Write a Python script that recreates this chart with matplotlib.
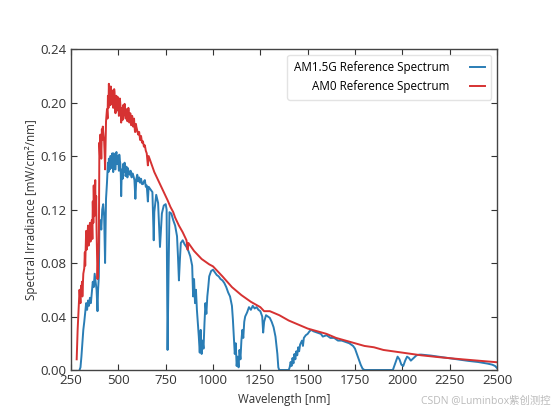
import matplotlib
matplotlib.use('Agg')
import matplotlib.pyplot as plt

# AM0 reference spectrum, mW/cm2/nm
am0_wl = [280, 285, 290, 295, 300, 303, 305, 308, 310, 315, 320, 323, 325, 330, 333,
          335, 340, 343, 345, 350, 353, 355, 360, 363, 365, 368, 370, 373, 375, 378,
          380, 383, 385, 390, 393, 397, 400, 403, 405, 408, 410, 413, 415, 418, 420,
          425, 428, 430, 433, 435, 440, 443, 445, 448, 450, 453, 455, 458, 460, 463,
          465, 468, 470, 473, 475, 478, 480, 483, 485, 488, 490, 493, 495, 498, 500,
          503, 505, 508, 510, 513, 515, 518, 520, 523, 525, 528, 530, 533, 535, 538,
          540, 543, 545, 548, 550, 553, 555, 558, 560, 563, 565, 568, 570, 573, 575,
          578, 580, 583, 585, 588, 590, 593, 595, 600, 605, 610, 615, 620, 625, 630,
          635, 640, 645, 650, 656, 660, 665, 670, 680, 690, 700, 710, 720, 730, 740,
          750, 760, 775, 790, 800, 820, 840, 850, 860, 866, 870, 880, 900, 920, 940,
          960, 980, 1000, 1050, 1100, 1150, 1200, 1250, 1270, 1300, 1350, 1400, 1450,
          1500, 1550, 1600, 1650, 1700, 1750, 1800, 1850, 1900, 1950, 2000, 2100, 2200,
          2300, 2400, 2500]
am0_val = [0.008, 0.030, 0.045, 0.060, 0.050, 0.063, 0.058, 0.066, 0.055, 0.072, 0.076,
           0.088, 0.078, 0.104, 0.090, 0.096, 0.108, 0.093, 0.100, 0.110, 0.096, 0.104,
           0.112, 0.098, 0.126, 0.110, 0.138, 0.115, 0.124, 0.142, 0.118, 0.130, 0.105,
           0.068, 0.082, 0.095, 0.170, 0.160, 0.176, 0.168, 0.158, 0.180, 0.172, 0.182,
           0.178, 0.171, 0.160, 0.150, 0.172, 0.186, 0.195, 0.188, 0.205, 0.196, 0.214,
           0.200, 0.206, 0.198, 0.212, 0.199, 0.200, 0.209, 0.207, 0.196, 0.203, 0.210,
           0.208, 0.196, 0.192, 0.205, 0.205, 0.194, 0.198, 0.204, 0.201, 0.190, 0.196,
           0.203, 0.200, 0.193, 0.185, 0.196, 0.193, 0.187, 0.198, 0.190, 0.191, 0.199,
           0.196, 0.188, 0.189, 0.195, 0.193, 0.186, 0.191, 0.196, 0.194, 0.185, 0.186,
           0.192, 0.190, 0.183, 0.185, 0.190, 0.188, 0.182, 0.186, 0.188, 0.183, 0.178,
           0.178, 0.184, 0.182, 0.179, 0.176, 0.178, 0.172, 0.175, 0.170, 0.171, 0.167,
           0.168, 0.164, 0.162, 0.153, 0.160, 0.158, 0.156, 0.152, 0.148, 0.145, 0.142,
           0.139, 0.136, 0.133, 0.130, 0.127, 0.122, 0.118, 0.114, 0.108, 0.103, 0.100,
           0.097, 0.090, 0.095, 0.093, 0.089, 0.086, 0.083, 0.081, 0.079, 0.0775, 0.070,
           0.062, 0.056, 0.051, 0.047, 0.044, 0.044, 0.041, 0.037, 0.034, 0.031, 0.029,
           0.027, 0.024, 0.022, 0.020, 0.018, 0.017, 0.015, 0.014, 0.013, 0.011, 0.0095,
           0.0082, 0.0070, 0.0058]

# AM1.5G reference spectrum, mW/cm2/nm
am15_wl = [295, 300, 305, 310, 315, 320, 325, 330, 335, 340, 345, 350, 355, 360, 365,
           370, 375, 380, 385, 390, 393, 397, 400, 405, 410, 415, 420, 425, 430, 435,
           440, 443, 445, 448, 450, 453, 455, 458, 460, 463, 465, 468, 470, 473, 475,
           478, 480, 483, 485, 488, 490, 493, 495, 498, 500, 503, 505, 508, 510, 513,
           515, 518, 520, 523, 525, 528, 530, 533, 535, 538, 540, 543, 545, 548, 550,
           555, 560, 565, 570, 575, 580, 585, 590, 595, 600, 605, 610, 615, 620, 625,
           630, 635, 640, 645, 650, 656, 660, 670, 680, 687, 690, 700, 710, 715, 720,
           725, 730, 740, 750, 755, 760, 765, 770, 780, 790, 800, 810, 815, 820, 825,
           830, 840, 850, 860, 870, 880, 890, 895, 900, 905, 910, 915, 920, 925, 930,
           935, 940, 945, 950, 955, 960, 965, 970, 975, 980, 990, 1000, 1010, 1020, 1030,
           1040, 1050, 1060, 1070, 1080, 1090, 1100, 1105, 1110, 1115, 1120, 1125, 1130,
           1135, 1140, 1145, 1150, 1155, 1160, 1165, 1170, 1180, 1190, 1200, 1210, 1220,
           1230, 1240, 1250, 1260, 1265, 1270, 1280, 1290, 1300, 1310, 1320, 1330, 1340,
           1345, 1350, 1400, 1405, 1410, 1415, 1420, 1425, 1430, 1435, 1440, 1445, 1450,
           1455, 1460, 1470, 1475, 1480, 1490, 1500, 1510, 1520, 1530, 1550, 1570, 1580,
           1600, 1620, 1640, 1650, 1660, 1680, 1700, 1720, 1740, 1750, 1760, 1770, 1780,
           1790, 1800, 1950, 1965, 1975, 1985, 1995, 2005, 2015, 2025, 2035, 2045, 2060,
           2075, 2090, 2100, 2150, 2200, 2250, 2300, 2350, 2400, 2450, 2475, 2490, 2500]
am15_val = [0.0, 0.002, 0.010, 0.020, 0.030, 0.036, 0.043, 0.050, 0.045, 0.052, 0.048,
            0.054, 0.050, 0.058, 0.066, 0.062, 0.072, 0.066, 0.060, 0.044, 0.060, 0.070,
            0.108, 0.112, 0.105, 0.120, 0.124, 0.115, 0.080, 0.128, 0.140, 0.150, 0.155,
            0.148, 0.158, 0.152, 0.150, 0.160, 0.160, 0.151, 0.156, 0.162, 0.155, 0.148,
            0.162, 0.157, 0.158, 0.150, 0.150, 0.161, 0.163, 0.154, 0.160, 0.158, 0.157,
            0.149, 0.161, 0.156, 0.155, 0.146, 0.130, 0.148, 0.150, 0.143, 0.154, 0.148,
            0.149, 0.155, 0.152, 0.145, 0.146, 0.152, 0.150, 0.144, 0.151, 0.148, 0.146,
            0.149, 0.144, 0.147, 0.145, 0.142, 0.128, 0.143, 0.146, 0.141, 0.144, 0.140,
            0.143, 0.139, 0.139, 0.141, 0.142, 0.137, 0.138, 0.126, 0.137, 0.135, 0.133,
            0.097, 0.118, 0.131, 0.125, 0.108, 0.092, 0.105, 0.117, 0.123, 0.124, 0.120,
            0.015, 0.070, 0.118, 0.117, 0.112, 0.108, 0.100, 0.085, 0.067, 0.082, 0.095,
            0.097, 0.094, 0.092, 0.089, 0.085, 0.078, 0.055, 0.068, 0.050, 0.060, 0.045,
            0.035, 0.025, 0.013, 0.030, 0.012, 0.022, 0.016, 0.035, 0.050, 0.042, 0.055,
            0.062, 0.070, 0.074, 0.075, 0.073, 0.071, 0.070, 0.068, 0.067, 0.065, 0.062,
            0.058, 0.055, 0.048, 0.038, 0.025, 0.012, 0.020, 0.003, 0.010, 0.002, 0.015,
            0.008, 0.022, 0.030, 0.024, 0.036, 0.040, 0.043, 0.047, 0.045, 0.048, 0.046,
            0.047, 0.045, 0.044, 0.040, 0.028, 0.036, 0.041, 0.040, 0.039, 0.036, 0.032,
            0.025, 0.012, 0.002, 0.0, 0.0, 0.002, 0.006, 0.003, 0.009, 0.005, 0.012, 0.008,
            0.014, 0.011, 0.017, 0.014, 0.019, 0.022, 0.018, 0.024, 0.026, 0.027, 0.029,
            0.030, 0.029, 0.028, 0.027, 0.025, 0.026, 0.024, 0.024, 0.023, 0.022, 0.022,
            0.021, 0.020, 0.018, 0.016, 0.012, 0.008, 0.004, 0.001, 0.0, 0.0, 0.006,
            0.010, 0.008, 0.004, 0.003, 0.007, 0.010, 0.009, 0.007, 0.009, 0.011, 0.0115,
            0.0115, 0.0108, 0.0098, 0.0088, 0.0078, 0.0068, 0.0060, 0.0048, 0.0040,
            0.0030, 0.0015]

x_ticks = [250, 500, 750, 1000, 1250, 1500, 1750, 2000, 2250, 2500]
y_ticks = [0.00, 0.04, 0.08, 0.12, 0.16, 0.20, 0.24]

plt.rcParams['font.family'] = ['Open Sans', 'Noto Sans CJK SC', 'DejaVu Sans']

fig = plt.figure(figsize=(5.53, 4.15), dpi=100)
ax = fig.add_axes([0.1284, 0.1084, 0.7703, 0.7735])

ax.plot(am15_wl, am15_val, color='#2a7db5', lw=1.4, label='AM1.5G Reference Spectrum')
ax.plot(am0_wl, am0_val, color='#d63232', lw=1.4, label='AM0 Reference Spectrum')

ax.set_xlim(250, 2500)
ax.set_ylim(0, 0.24)
ax.set_xticks(x_ticks)
ax.set_yticks(y_ticks)
ax.set_yticklabels(['%.2f' % v for v in y_ticks])
ax.tick_params(direction='in', top=True, right=True, length=4, labelsize=9.5,
               colors='#333333', pad=3)
for sp in ax.spines.values():
    sp.set_color('#444444')
    sp.set_linewidth(1.0)

ax.set_xlabel('Wavelength [nm]', fontsize=8.4, color='#333333', labelpad=4)
ax.set_ylabel('Spectral Irradiance [mW/cm²/nm]', fontsize=8.4, color='#333333', labelpad=2)

leg = ax.legend(loc='upper right', markerfirst=False, fontsize=8.4, frameon=True,
                handlelength=1.25, handletextpad=1.8, borderpad=0.55,
                labelspacing=0.5, borderaxespad=0.5)
leg.get_frame().set_edgecolor('#dddddd')
for t in leg.get_texts():
    t.set_ha('right')

fig.text(0.995, 0.02, 'CSDN @Luminbox紫创测控', ha='right', va='bottom',
         fontsize=7.5, color='#bbbbbb')

fig.savefig('out.png', dpi=100)
